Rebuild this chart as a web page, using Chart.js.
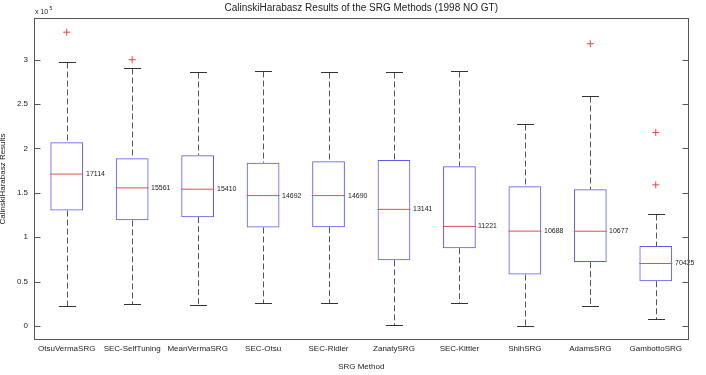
<!DOCTYPE html>
<html lang="en">
<head>
<meta charset="UTF-8">
<title>CalinskiHarabasz Results of the SRG Methods</title>
<script src="https://cdn.jsdelivr.net/npm/chart.js@4"></script>
<style>
  html, body { margin: 0; padding: 0; background: #fff; }
  #wrap { width: 706px; height: 375px; }
</style>
</head>
<body>
<div id="wrap"><canvas id="chart" width="706" height="375"></canvas></div>
<script>
// values
const methods = ['OtsuVermaSRG', 'SEC-SelfTuning', 'MeanVermaSRG', 'SEC-Otsu', 'SEC-Ridler',
  'ZanatySRG', 'SEC-Kittler', 'ShihSRG', 'AdamsSRG', 'GambottoSRG'];
const lowerWhisker = [23000, 25000, 23700, 26000, 26000, 1000, 26000, 300, 23000, 7900];
const q1 = [130000, 119000, 122600, 111000, 111300, 74000, 87600, 57900, 72000, 50400];
const medians = [171140, 155610, 154100, 146920, 146900, 131410, 112210, 106880, 106770, 70425];
const q3 = [207000, 189000, 192500, 184000, 185700, 187000, 180000, 157500, 154000, 90000];
const upperWhisker = [297000, 291000, 286000, 287000, 286000, 286500, 287500, 228000, 259000, 126300];
const outliers = [[331000], [300000], [], [], [], [], [], [], [318000], [218000, 159000]];
const medianLabels = ['17114', '15561', '15410', '14692', '14690', '13141', '11221', '10688', '10677', '70425'];
const yTickValues = [0, 50000, 100000, 150000, 200000, 250000, 300000];

const FONT = '"Liberation Sans", Arial, sans-serif';
const outlierPoints = [];
outliers.forEach((list, i) => list.forEach(v => outlierPoints.push({ x: methods[i], y: v })));

// whiskers, caps, median labels, frame, inward ticks and titles
const boxExtras = {
  id: 'boxExtras',
  afterDatasetsDraw(chart) {
    const { ctx, chartArea: a, scales: { x, y } } = chart;
    ctx.save();
    methods.forEach((m, i) => {
      const cx = Math.round(x.getPixelForValue(i)) + 0.5;
      const yq1 = y.getPixelForValue(q1[i]);
      const yq3 = y.getPixelForValue(q3[i]);
      const ylo = Math.round(y.getPixelForValue(lowerWhisker[i])) + 0.5;
      const yhi = Math.round(y.getPixelForValue(upperWhisker[i])) + 0.5;
      ctx.strokeStyle = '#555';
      ctx.lineWidth = 1;
      ctx.setLineDash([6, 3]);
      ctx.beginPath();
      ctx.moveTo(cx, yhi); ctx.lineTo(cx, yq3);
      ctx.moveTo(cx, yq1); ctx.lineTo(cx, ylo);
      ctx.stroke();
      ctx.setLineDash([]);
      ctx.strokeStyle = '#333';
      ctx.beginPath();
      ctx.moveTo(cx - 8.5, yhi); ctx.lineTo(cx + 8.5, yhi);
      ctx.moveTo(cx - 8.5, ylo); ctx.lineTo(cx + 8.5, ylo);
      ctx.stroke();
      ctx.fillStyle = '#222';
      ctx.font = '7px ' + FONT;
      ctx.textAlign = 'left';
      ctx.textBaseline = 'middle';
      ctx.fillText(medianLabels[i], cx + 18.5, y.getPixelForValue(medians[i]));
    });

    // frame and inward ticks
    ctx.strokeStyle = '#555';
    ctx.lineWidth = 1;
    const L = Math.round(a.left) + 0.5, R = Math.round(a.right) - 0.5;
    const T = Math.round(a.top) + 0.5, B = Math.round(a.bottom) - 0.5;
    ctx.strokeRect(L, T, R - L, B - T);
    ctx.beginPath();
    yTickValues.forEach(v => {
      const py = Math.round(y.getPixelForValue(v)) + 0.5;
      ctx.moveTo(L, py); ctx.lineTo(L + 6, py);
      ctx.moveTo(R, py); ctx.lineTo(R - 6, py);
    });
    ctx.stroke();

    // title and exponent
    ctx.fillStyle = '#222';
    ctx.textAlign = 'center';
    ctx.textBaseline = 'middle';
    ctx.font = '10px ' + FONT;
    ctx.fillText('CalinskiHarabasz Results of the SRG Methods (1998 NO GT)', (a.left + a.right) / 2, 8);
    ctx.textAlign = 'left';
    ctx.textBaseline = 'alphabetic';
    ctx.font = '7px ' + FONT;
    ctx.fillText('x 10', 35, 14);
    ctx.font = '5px ' + FONT;
    ctx.fillText('5', 49.5, 10);
    ctx.restore();
  }
};

new Chart(document.getElementById('chart'), {
  type: 'bar',
  data: {
    labels: methods,
    datasets: [
      {
        label: 'box',
        data: methods.map((m, i) => [q1[i], q3[i]]),
        backgroundColor: 'rgba(0,0,0,0)',
        borderColor: '#5a5af0',
        borderWidth: 1,
        borderSkipped: false,
        categoryPercentage: 1,
        barPercentage: 0.5,
        order: 2
      },
      {
        type: 'line',
        label: 'median',
        data: medians,
        showLine: false,
        pointStyle: 'line',
        pointRadius: 16.5,
        pointBorderColor: '#e84a4a',
        pointBorderWidth: 1,
        order: 1
      },
      {
        type: 'line',
        label: 'outliers',
        data: outlierPoints,
        showLine: false,
        pointStyle: 'cross',
        pointRadius: 3.5,
        pointBorderColor: '#ee4040',
        pointBorderWidth: 1,
        order: 0
      }
    ]
  },
  options: {
    responsive: false,
    animation: false,
    devicePixelRatio: 1,
    layout: { padding: { top: 18, right: 7, left: 0, bottom: 0 } },
    plugins: {
      legend: { display: false },
      tooltip: { enabled: false },
      title: { display: false }
    },
    scales: {
      x: {
        grid: { display: false, drawTicks: false },
        border: { display: false },
        ticks: { font: { family: FONT, size: 8 }, color: '#222', padding: 4, maxRotation: 0, autoSkip: false },
        title: { display: true, text: 'SRG Method', font: { family: FONT, size: 8 }, color: '#222', padding: { top: 0, bottom: 3 } },
        afterFit: s => { s.height = 35; }
      },
      y: {
        min: -15800,
        max: 347000,
        grid: { display: false, drawTicks: false },
        border: { display: false },
        afterBuildTicks: s => { s.ticks = yTickValues.map(v => ({ value: v })); },
        ticks: {
          font: { family: FONT, size: 8 },
          color: '#222',
          padding: 6,
          callback: v => String(v / 100000)
        },
        title: { display: true, text: 'CalinskiHarabasz Results', font: { family: FONT, size: 8, lineHeight: 1 }, color: '#222', padding: { top: -1, bottom: 0 } },
        afterFit: s => { s.width = 34; }
      }
    }
  },
  plugins: [boxExtras]
});
</script>
</body>
</html>
